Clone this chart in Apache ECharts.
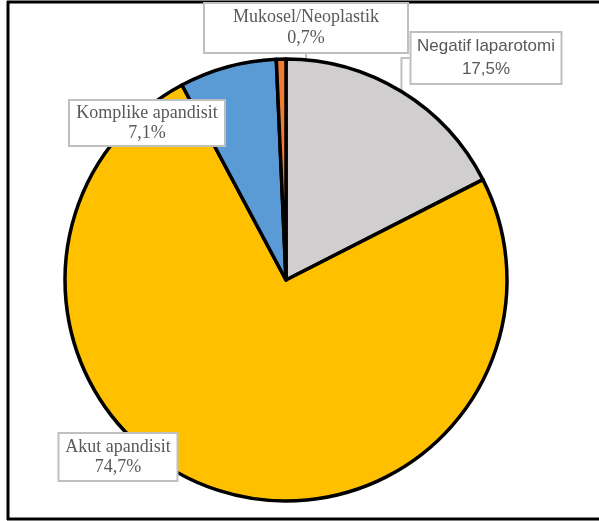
<!DOCTYPE html>
<html>
<head>
<meta charset="utf-8">
<script src="https://cdn.jsdelivr.net/npm/echarts@6/dist/echarts.min.js"></script>
<style>
  html, body { margin: 0; padding: 0; background: #fff; }
  #chart { width: 599px; height: 521px; }
</style>
</head>
<body>
<div id="chart"></div>
<script>
// Diagnosis categories and their shares (percent)
const categories = ['Negatif laparotomi', 'Akut apandisit', 'Komplike apandisit', 'Mukosel/Neoplastik'];
const shares = [17.5, 74.7, 7.1, 0.7];
const sliceColors = ['#D0CECE', '#FFC000', '#5B9BD5', '#ED7D31'];
const serif = '"Liberation Serif", "Times New Roman", serif';
const sans = '"Liberation Sans", Arial, sans-serif';
// Callout box styling: font, size, inner width, line height, vertical padding, centre
const boxStyles = [
  { font: sans,  size: 17, width: 149, lh: 23, pad: 2, at: [486, 58] },
  { font: serif, size: 18, width: 117, lh: 20, pad: 3, at: [118, 457] },
  { font: serif, size: 18, width: 154, lh: 20, pad: 2, at: [147, 123] },
  { font: serif, size: 18, width: 202, lh: 21, pad: 3, at: [306, 28] }
];

const fmt = v => v.toFixed(1).replace('.', ',') + '%';

const chart = echarts.init(document.getElementById('chart'), null, { renderer: 'canvas' });
chart.setOption({
  backgroundColor: '#ffffff',
  animation: false,
  graphic: [
    { type: 'line', shape: { x1: 7, y1: 2, x2: 599, y2: 2 }, style: { stroke: '#000', lineWidth: 3 } },
    { type: 'line', shape: { x1: 8, y1: 1, x2: 8, y2: 520 }, style: { stroke: '#000', lineWidth: 3 } },
    { type: 'line', shape: { x1: 7, y1: 519, x2: 599, y2: 519 }, style: { stroke: '#000', lineWidth: 3 } }
  ],
  series: [{
    type: 'pie',
    center: [286, 280],
    radius: 221,
    startAngle: 90,
    clockwise: true,
    data: categories.map((name, i) => ({
      name,
      value: shares[i],
      itemStyle: { color: sliceColors[i] },
      label: {
        fontFamily: boxStyles[i].font,
        fontSize: boxStyles[i].size,
        width: boxStyles[i].width,
        lineHeight: boxStyles[i].lh,
        padding: [boxStyles[i].pad, 0, boxStyles[i].pad, 0]
      }
    })),
    itemStyle: { borderColor: '#000', borderWidth: 3.5 },
    label: {
      show: true,
      position: 'outside',
      formatter: p => p.name + '\n' + fmt(p.value),
      color: '#595959',
      overflow: 'none',
      align: 'center',
      backgroundColor: '#ffffff',
      borderColor: '#BFBFBF',
      borderWidth: 2
    },
    labelLine: {
      show: true,
      length: 10,
      length2: 10,
      lineStyle: { color: '#BFBFBF', width: 2 }
    },
    labelLayout: p => ({
      x: boxStyles[p.dataIndex].at[0],
      y: boxStyles[p.dataIndex].at[1],
      align: 'center',
      verticalAlign: 'middle'
    })
  }]
});
</script>
</body>
</html>
